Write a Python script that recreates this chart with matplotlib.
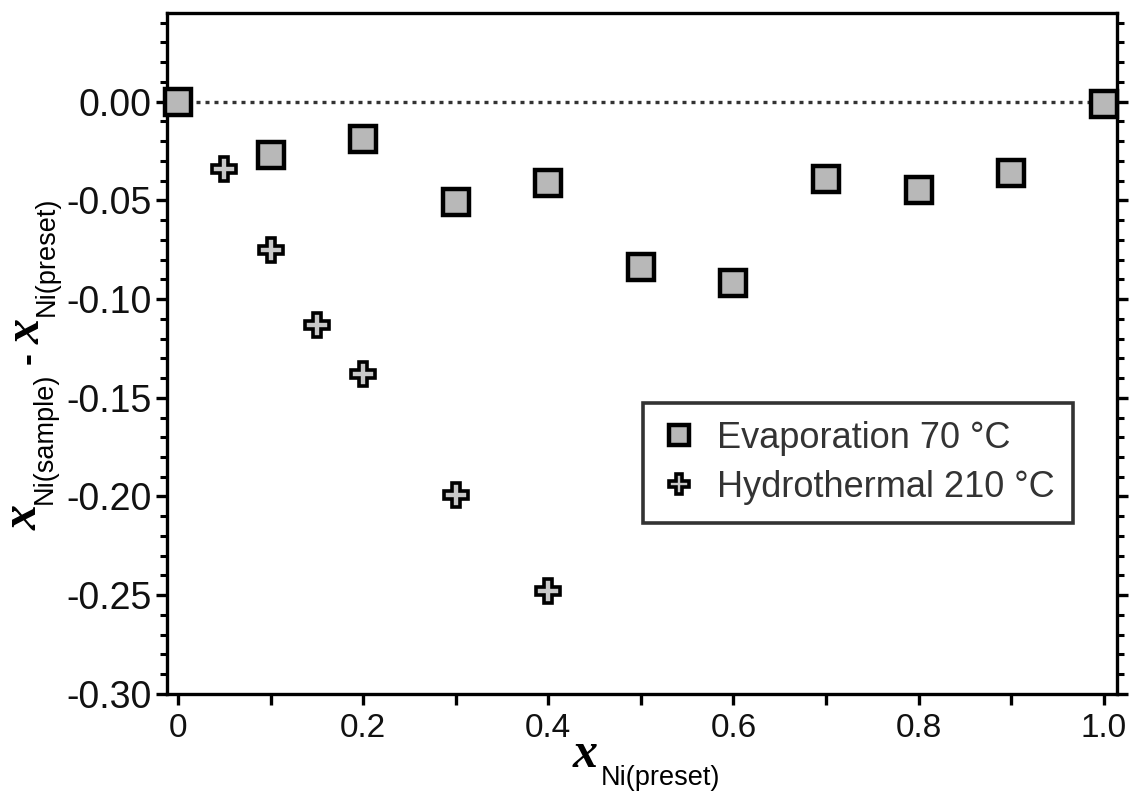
import numpy as np
import matplotlib
matplotlib.use("Agg")
import matplotlib.pyplot as plt
from matplotlib.ticker import MultipleLocator, FuncFormatter

plt.rcParams['axes.unicode_minus'] = False
plt.rcParams['font.family'] = 'Liberation Sans'

# data
evap_x = [0.0, 0.1, 0.2, 0.3, 0.4, 0.5, 0.6, 0.7, 0.8, 0.9, 1.0]
evap_y = [0.000, -0.027, -0.019, -0.051, -0.041, -0.084, -0.092, -0.039, -0.045, -0.036, -0.001]
hydro_x = [0.05, 0.1, 0.15, 0.2, 0.3, 0.4]
hydro_y = [-0.034, -0.075, -0.113, -0.138, -0.199, -0.248]
labels = ["Evaporation 70 °C", "Hydrothermal 210 °C"]

fig = plt.figure(figsize=(11.36, 7.94), dpi=100)
ax = fig.add_axes([0.147, 0.126, 0.836, 0.858])

ax.plot([0, 1], [0, 0], ls=(0, (1.2, 1.5)), color='#333333', lw=2.4, zorder=1)
ax.plot(evap_x, evap_y, 's', ms=19, mfc='#b8b8b8', mec='black', mew=3.2,
        label=labels[0], clip_on=False, zorder=3)
ax.plot(hydro_x, hydro_y, 'P', ms=17, mfc='#c8c8c8', mec='black', mew=2.6,
        label=labels[1], clip_on=False, zorder=3)

ax.set_xlim(-0.012, 1.014)
ax.set_ylim(-0.30, 0.045)

for s in ax.spines.values():
    s.set_linewidth(2.4)

ax.xaxis.set_major_locator(MultipleLocator(0.2))
ax.xaxis.set_minor_locator(MultipleLocator(0.1))
ax.yaxis.set_major_locator(MultipleLocator(0.05))
ax.yaxis.set_minor_locator(MultipleLocator(0.01))
ax.xaxis.set_major_formatter(FuncFormatter(lambda v, p: '0' if abs(v) < 1e-9 else f'{v:.1f}'))
ax.yaxis.set_major_formatter(FuncFormatter(lambda v, p: f'{v:.2f}' if abs(v) > 1e-9 else '0.00'))

ax.tick_params(axis='y', which='major', direction='out', length=8, width=2.4,
               left=True, right=True, labelsize=27, pad=3, labelcolor='#111111')
ax.tick_params(axis='y', which='minor', direction='out', length=5, width=2.2,
               left=True, right=True)
ax.tick_params(axis='x', which='both', direction='out', length=8, width=2.4,
               bottom=True, top=False, labelsize=24, pad=6, labelcolor='#111111')

# axis labels built from pieces: bold italic serif x with sans subscripts
big = dict(family='Liberation Serif', style='italic', weight='bold', size=36)
sub = dict(family='Liberation Sans', size=19.5)

# x label
t0 = fig.text(0.504, 0.034, 'x', ha='left', va='baseline', **big)
ax.annotate('Ni(preset)', xy=(1.0, 0.0), xycoords=t0, xytext=(2, -5),
            textcoords='offset points', ha='left', va='baseline', **sub)

# y label (reads bottom to top)
p1 = fig.text(0.022, 0.332, 'x', rotation=90, ha='center', va='bottom', **big)
p2 = ax.annotate('Ni(sample)', xy=(0.5, 1.0), xycoords=p1, xytext=(14, 1),
                 textcoords='offset points', rotation=90, ha='center', va='bottom', **sub)
p3 = ax.annotate('-', xy=(0.5, 1.0), xycoords=p2, xytext=(-12, 6),
                 textcoords='offset points', rotation=90, ha='center', va='bottom',
                 family='Liberation Sans', weight='bold', size=26)
p4 = ax.annotate('x', xy=(0.5, 1.0), xycoords=p3, xytext=(0, 6),
                 textcoords='offset points', rotation=90, ha='center', va='bottom', **big)
ax.annotate('Ni(preset)', xy=(0.5, 1.0), xycoords=p4, xytext=(14, 2),
            textcoords='offset points', rotation=90, ha='center', va='bottom', **sub)

leg = ax.legend(loc='upper left', bbox_to_anchor=(0.501, 0.427), borderaxespad=0,
                frameon=True, fancybox=False, borderpad=0.5, handletextpad=0.55,
                labelspacing=0.38, handlelength=1.0,
                prop={'family': 'Liberation Sans', 'size': 26})
leg.get_frame().set_edgecolor('#333333')
leg.get_frame().set_linewidth(2.6)
leg.get_frame().set_alpha(1)
for t in leg.get_texts():
    t.set_color('#333333')
hs = leg.legend_handles
hs[0].set_markersize(15)
hs[1].set_markersize(14)

fig.savefig('out.png', dpi=100)
